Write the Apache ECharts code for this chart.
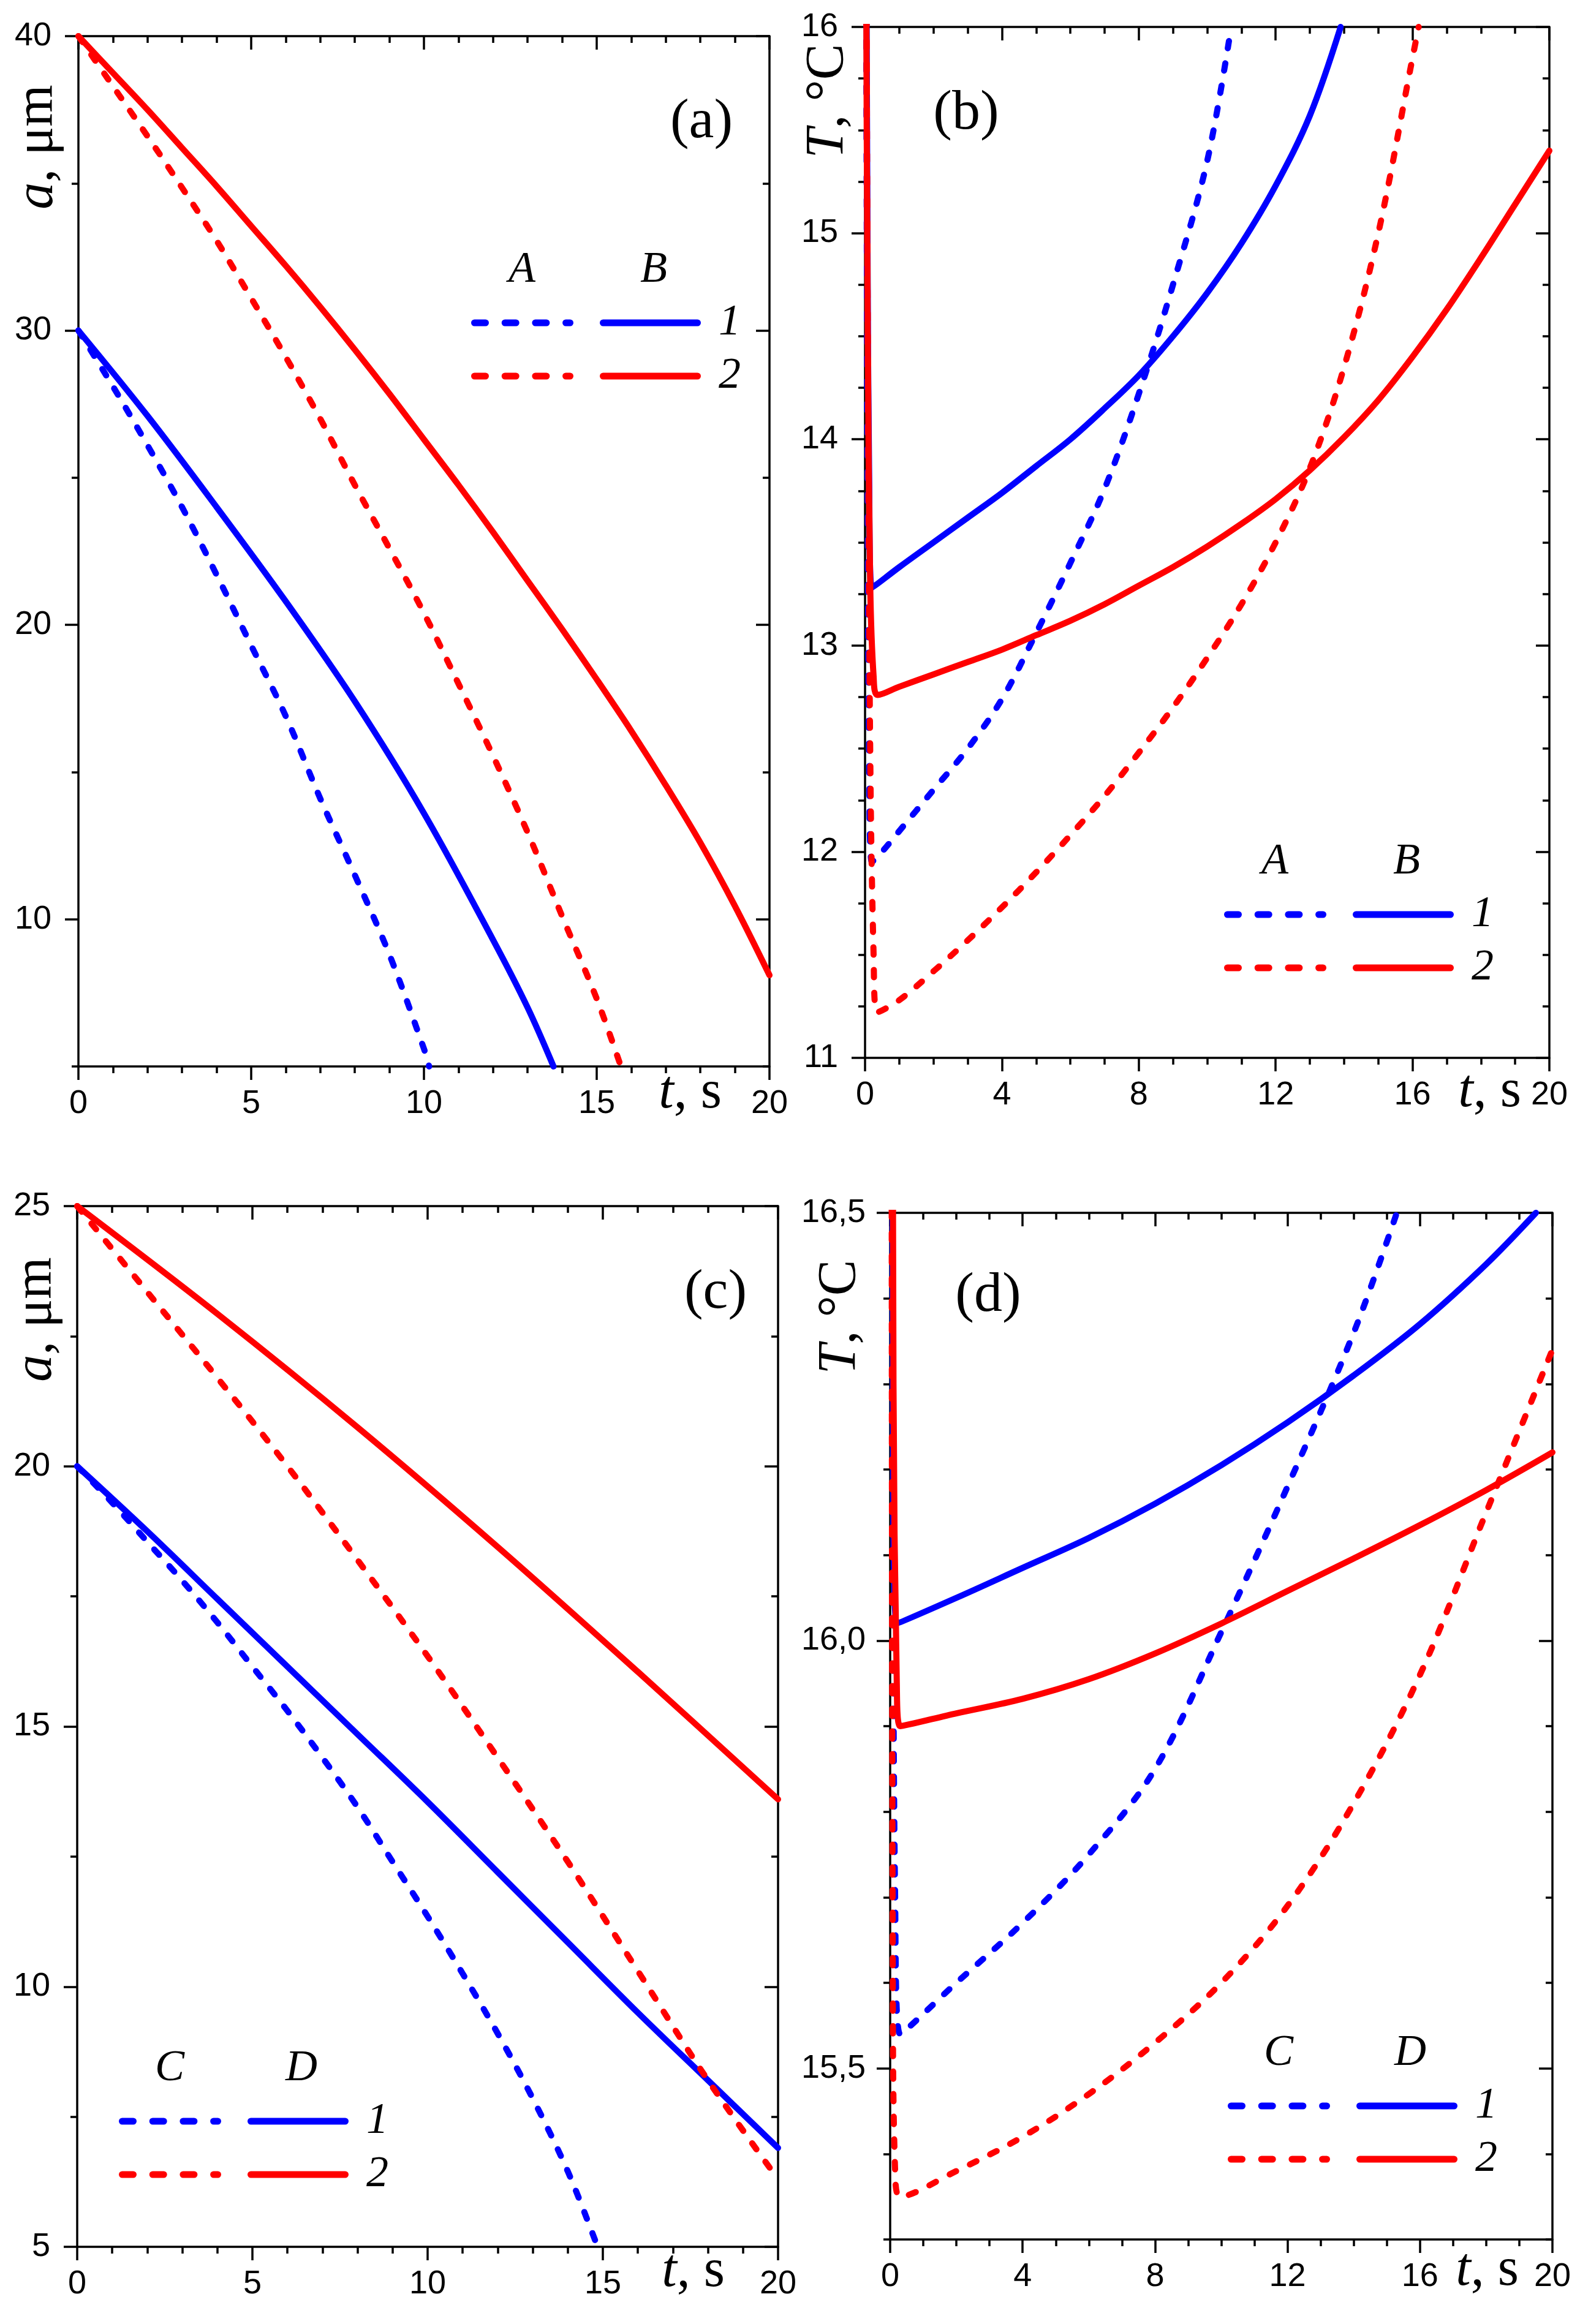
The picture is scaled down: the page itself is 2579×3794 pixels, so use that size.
<!DOCTYPE html>
<html>
<head>
<meta charset="utf-8">
<script src="https://cdn.jsdelivr.net/npm/echarts@6.0.0/dist/echarts.min.js"></script>
<style>
  html, body { margin: 0; padding: 0; background: #fff; }
  #chart { width: 2579px; height: 3794px; }
</style>
</head>
<body>
<div id="chart"></div>
<script>
// ---- data ----
// (a) droplet radius a, um vs t, s  (A/B = dashed/solid, 1 = blue, 2 = red)
var tA1a = [0, 1, 2, 3, 4, 5, 6, 7, 8, 9, 10, 10.15];
var aA1a = [30, 28.1, 26.1, 24.0, 21.7, 19.3, 16.9, 14.1, 11.5, 8.8, 5.6, 5.0];
var tB1a = [0, 2, 4, 6, 8, 10, 12, 13, 13.75];
var aB1a = [30, 27.1, 24.0, 20.8, 17.4, 13.6, 9.3, 7.0, 5.0];
var tA2a = [0, 1, 2, 3, 4, 5, 6, 7, 8, 9, 10, 11, 12, 13, 14, 15, 15.7];
var aA2a = [40, 38.3, 36.6, 34.85, 33.05, 31.1, 29.1, 27.0, 24.75, 22.6, 20.4, 18.0, 15.55, 12.95, 10.1, 7.3, 5.0];
var tB2a = [0, 1, 2, 3, 4, 5, 6, 7, 8, 9, 10, 11, 12, 13, 14, 15, 16, 17, 18, 19, 20];
var aB2a = [40, 38.75, 37.5, 36.2, 34.9, 33.55, 32.2, 30.8, 29.35, 27.85, 26.3, 24.75, 23.15, 21.5, 19.85, 18.15, 16.4, 14.55, 12.6, 10.45, 8.1];

// (b) temperature T, C vs t, s
var tA1b = [0, 0.03, 0.07, 0.12, 0.2, 0.5, 1, 2, 3, 4, 5, 6, 7, 8, 9, 10, 10.7];
var TA1b = [20, 16.5, 14.0, 12.5, 11.95, 12.0, 12.1, 12.3, 12.5, 12.74, 13.06, 13.4, 13.76, 14.22, 14.75, 15.35, 16.0];
var tB1b = [0, 0.03, 0.07, 0.12, 0.2, 1, 2, 3, 4, 5, 6, 7, 8, 9, 10, 11, 12, 13, 13.9];
var TB1b = [20, 17, 15, 13.8, 13.28, 13.38, 13.5, 13.62, 13.74, 13.87, 14.0, 14.15, 14.31, 14.5, 14.71, 14.95, 15.23, 15.57, 16.0];
var tA2b = [0, 0.03, 0.08, 0.15, 0.25, 0.35, 1, 2, 3, 4, 5, 6, 7, 8, 9, 10, 11, 12, 13, 14, 15, 16, 16.18];
var TA2b = [20, 17, 14.5, 12.5, 11.5, 11.22, 11.28, 11.42, 11.57, 11.73, 11.9, 12.08, 12.27, 12.48, 12.7, 12.94, 13.2, 13.5, 13.86, 14.35, 15.0, 15.85, 16.0];
var tB2b = [0, 0.03, 0.08, 0.15, 0.25, 0.37, 1, 2, 3, 4, 5, 6, 7, 8, 9, 10, 11, 12, 13, 14, 15, 16, 17, 18, 19, 20];
var TB2b = [20, 16.5, 14.5, 13.3, 12.85, 12.76, 12.8, 12.86, 12.92, 12.98, 13.05, 13.12, 13.2, 13.29, 13.38, 13.48, 13.59, 13.71, 13.85, 14.01, 14.19, 14.4, 14.63, 14.88, 15.14, 15.4];

// (c) droplet radius (C/D = dashed/solid)
var tC1c = [0, 1, 2, 3, 4, 5, 6, 7, 8, 9, 10, 11, 12, 13, 14, 14.85];
var aC1c = [20, 19.3, 18.55, 17.8, 17.0, 16.15, 15.3, 14.4, 13.45, 12.4, 11.35, 10.25, 9.1, 7.85, 6.45, 5.0];
var tD1c = [0, 2, 4, 6, 8, 10, 12, 14, 16, 18, 20];
var aD1c = [20, 18.75, 17.45, 16.15, 14.85, 13.55, 12.2, 10.85, 9.5, 8.2, 6.9];
var tC2c = [0, 2, 4, 6, 8, 10, 12, 14, 16, 18, 20];
var aC2c = [25, 23.35, 21.7, 20.0, 18.2, 16.35, 14.4, 12.4, 10.3, 8.2, 6.3];
var tD2c = [0, 4, 8, 12, 16, 20];
var aD2c = [25, 22.93, 20.75, 18.45, 16.05, 13.6];

// (d) temperature
var tC1d = [0, 0.03, 0.08, 0.15, 0.3, 2, 4, 6, 8, 10, 12, 14, 15.3];
var TC1d = [20, 17, 16.2, 15.7, 15.54, 15.6, 15.67, 15.75, 15.85, 16.01, 16.18, 16.36, 16.5];
var tD1d = [0, 0.04, 0.08, 0.2, 2, 4, 6, 8, 10, 12, 14, 16, 18, 19.5];
var TD1d = [20, 17.5, 16.3, 16.02, 16.05, 16.085, 16.12, 16.16, 16.205, 16.255, 16.31, 16.37, 16.44, 16.5];
var tC2d = [0, 0.04, 0.08, 0.15, 0.3, 2, 4, 6, 8, 10, 12, 14, 16, 18, 20];
var TC2d = [20, 17, 15.6, 15.38, 15.35, 15.38, 15.42, 15.47, 15.53, 15.6, 15.69, 15.81, 15.96, 16.15, 16.34];
var tD2d = [0, 0.04, 0.1, 0.2, 0.3, 2, 4, 6, 8, 10, 12, 14, 16, 18, 20];
var TD2d = [20, 17.5, 16.3, 15.95, 15.9, 15.915, 15.932, 15.955, 15.985, 16.02, 16.058, 16.096, 16.135, 16.176, 16.22];

// ---- ticks ----
var xMajor5 = [0, 5, 10, 15, 20];
var xMinor5 = [1, 2, 3, 4, 6, 7, 8, 9, 11, 12, 13, 14, 16, 17, 18, 19];
var xMajor4 = [0, 4, 8, 12, 16, 20];
var xMinor4 = [1, 2, 3, 5, 6, 7, 9, 10, 11, 13, 14, 15, 17, 18, 19];
var yMajorA = [10, 20, 30, 40];
var yMinorA = [5, 15, 25, 35];
var yMajorB = [11, 12, 13, 14, 15, 16];
var yMinorB = [11.25, 11.5, 11.75, 12.25, 12.5, 12.75, 13.25, 13.5, 13.75, 14.25, 14.5, 14.75, 15.25, 15.5, 15.75];
var yMajorC = [5, 10, 15, 20, 25];
var yMinorC = [7.5, 12.5, 17.5, 22.5];
var yMajorD = [15.5, 16.0, 16.5];
var yMinorD = [15.3, 15.4, 15.6, 15.7, 15.8, 15.9, 16.1, 16.2, 16.3, 16.4];

// ---- layout ----
var BLUE = '#0000ff', RED = '#ff0000', INK = '#000';
var SANS = '"Liberation Sans", Arimo, Arial, sans-serif';
var SERIF = '"Liberation Serif", Tinos, "Times New Roman", serif';
var grids = [
  { left: 128, top: 59, width: 1128, height: 1682 },
  { left: 1412, top: 44, width: 1117, height: 1683 },
  { left: 126, top: 1969, width: 1144, height: 1699 },
  { left: 1453, top: 1980, width: 1081, height: 1676 }
];
var panels = [
  { x: [xMajor5, xMinor5], y: [yMajorA, yMinorA], ymin: 5, ymax: 40, ymargin: 44 },
  { x: [xMajor4, xMinor4], y: [yMajorB, yMinorB], ymin: 11, ymax: 16, ymargin: 44 },
  { x: [xMajor5, xMinor5], y: [yMajorC, yMinorC], ymin: 5, ymax: 25, ymargin: 44 },
  { x: [xMajor4, xMinor4], y: [yMajorD, yMinorD], ymin: 15.3, ymax: 16.5, ymargin: 40, comma: true }
];

function axis(gi, pos, min, max, ticks, major, label) {
  var inside = (pos === 'top' || pos === 'right');
  return {
    type: 'value', gridIndex: gi, position: pos, min: min, max: max,
    axisLine: { show: major, onZero: false, lineStyle: { color: INK, width: 3.5 } },
    axisTick: { show: true, inside: inside, length: major ? 22 : 11, customValues: ticks,
                lineStyle: { color: INK, width: 3.5 } },
    axisLabel: label ? Object.assign({ show: true, customValues: ticks, color: INK,
                fontSize: 54, fontFamily: SANS }, label) : { show: false },
    splitLine: { show: false }, minorTick: { show: false }, minorSplitLine: { show: false }
  };
}

var xAxes = [], yAxes = [];
panels.forEach(function(p, gi) {
  var fmt = p.comma ? function(v) { return v.toFixed(1).replace('.', ','); } : function(v) { return String(v); };
  xAxes.push(axis(gi, 'bottom', 0, 20, p.x[0], true, { margin: 34 }));
  xAxes.push(axis(gi, 'bottom', 0, 20, p.x[1], false));
  xAxes.push(axis(gi, 'top', 0, 20, p.x[0], true));
  xAxes.push(axis(gi, 'top', 0, 20, p.x[1], false));
  yAxes.push(axis(gi, 'left', p.ymin, p.ymax, p.y[0], true, { margin: p.ymargin, formatter: fmt }));
  yAxes.push(axis(gi, 'left', p.ymin, p.ymax, p.y[1], false));
  yAxes.push(axis(gi, 'right', p.ymin, p.ymax, p.y[0], true));
  yAxes.push(axis(gi, 'right', p.ymin, p.ymax, p.y[1], false));
});

function curve(gi, ts, vs, color, dashed) {
  return {
    type: 'line', xAxisIndex: gi * 4, yAxisIndex: gi * 4,
    data: ts.map(function(t, i) { return [t, vs[i]]; }),
    showSymbol: false, smooth: 0.35, clip: true, silent: true,
    lineStyle: { color: color, width: 10, type: dashed ? [12, 25] : 'solid', cap: 'round', join: 'round' },
    z: 3
  };
}

var series = [
  curve(0, tA1a, aA1a, BLUE, true), curve(0, tB1a, aB1a, BLUE, false),
  curve(0, tA2a, aA2a, RED, true), curve(0, tB2a, aB2a, RED, false),
  curve(1, tA1b, TA1b, BLUE, true), curve(1, tB1b, TB1b, BLUE, false),
  curve(1, tA2b, TA2b, RED, true), curve(1, tB2b, TB2b, RED, false),
  curve(2, tC1c, aC1c, BLUE, true), curve(2, tD1c, aD1c, BLUE, false),
  curve(2, tC2c, aC2c, RED, true), curve(2, tD2c, aD2c, RED, false),
  curve(3, tC1d, TC1d, BLUE, true), curve(3, tD1d, TD1d, BLUE, false),
  curve(3, tC2d, TC2d, RED, true), curve(3, tD2d, TD2d, RED, false)
];

// ---- text and legend samples ----
function txt(s, x, y, size, italic, align) {
  return { type: 'text', x: x, y: y, z: 10, style: {
    text: s, fill: INK, fontSize: size, fontFamily: SERIF, fontStyle: italic ? 'italic' : 'normal',
    align: align || 'center', verticalAlign: 'middle', textAlign: align || 'center', textVerticalAlign: 'middle' } };
}
function richTxt(s, x, y, align, rot) {
  var base = { fontSize: 88, fontFamily: SERIF, color: INK, fill: INK };
  return { type: 'text', x: x, y: y, z: 10, rotation: rot || 0, style: {
    text: s, fill: INK, fontSize: 88, fontFamily: SERIF,
    align: align, verticalAlign: 'middle', textAlign: align, textVerticalAlign: 'middle',
    rich: { i: Object.assign({ fontStyle: 'italic' }, base), n: base } } };
}
function legend(sx, ry, names) {
  var els = [txt(names[0], sx + 83, ry - 86, 72, true), txt(names[1], sx + 298, ry - 86, 72, true)];
  [BLUE, RED].forEach(function(c, k) {
    var y = ry + k * 87;
    els.push({ type: 'line', z: 10, shape: { x1: sx + 5.5, y1: y, x2: sx + 161.5, y2: y },
      style: { stroke: c, lineWidth: 11, lineDash: [18, 31.7], lineCap: 'round' } });
    els.push({ type: 'line', z: 10, shape: { x1: sx + 215.5, y1: y, x2: sx + 369.5, y2: y },
      style: { stroke: c, lineWidth: 11, lineCap: 'round' } });
    els.push(txt(String(k + 1), sx + 422, y, 72, true));
  });
  return els;
}

var graphics = [
  txt('(a)', 1145, 200, 92), txt('(b)', 1577, 186, 92),
  txt('(c)', 1168, 2111, 92), txt('(d)', 1613, 2116, 92),
  richTxt('{i|a}{n|, μm}', 62, 240, 'center', Math.PI / 2),
  richTxt('{i|T}{n|, °C}', 1352, 165, 'center', Math.PI / 2),
  richTxt('{i|a}{n|, μm}', 60, 2154, 'center', Math.PI / 2),
  richTxt('{i|T}{n|, °C}', 1372, 2150, 'center', Math.PI / 2),
  richTxt('{i|t}{n|, s}', 1178, 1785, 'right'),
  richTxt('{i|t}{n|, s}', 2483, 1783, 'right'),
  richTxt('{i|t}{n|, s}', 1183, 3709, 'right'),
  richTxt('{i|t}{n|, s}', 2479, 3707, 'right')
].concat(legend(769, 527, ['A', 'B']), legend(1998, 1493, ['A', 'B']),
         legend(194, 3463, ['C', 'D']), legend(2004, 3438, ['C', 'D']));

var chart = echarts.init(document.getElementById('chart'), null, { renderer: 'canvas' });
chart.setOption({
  animation: false,
  backgroundColor: '#fff',
  grid: grids.map(function(g) { return Object.assign({ containLabel: false, outerBoundsMode: 'none' }, g); }),
  xAxis: xAxes,
  yAxis: yAxes,
  series: series,
  graphic: { elements: graphics }
});
</script>
</body>
</html>
